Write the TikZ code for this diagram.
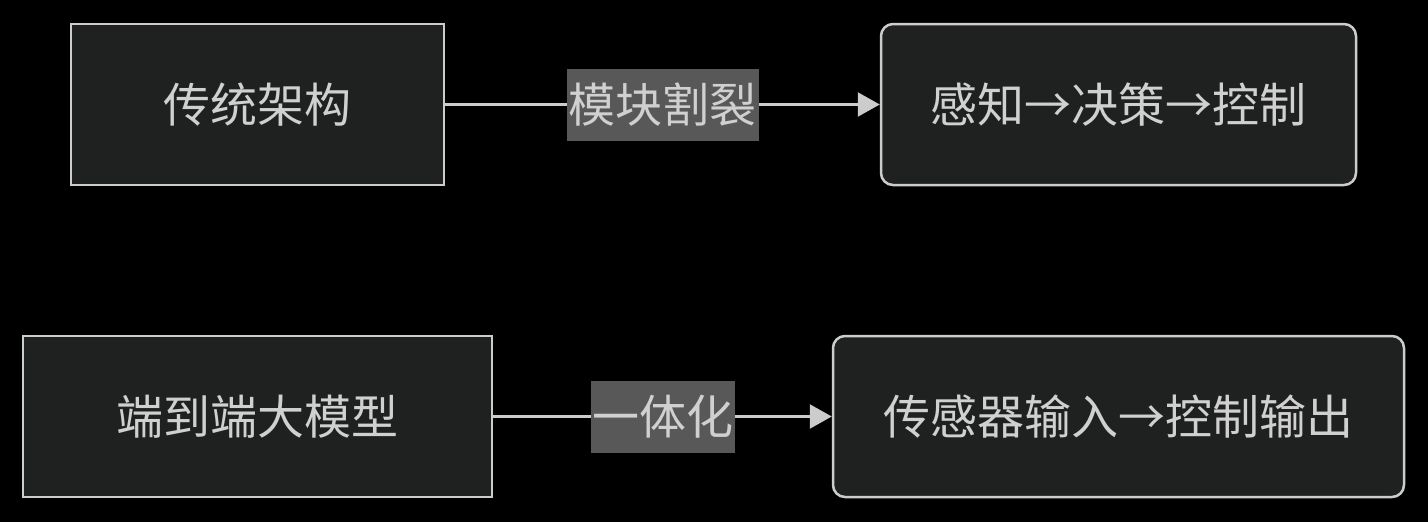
\documentclass[tikz,border=0pt]{standalone}
\usepackage{fontspec}
\newfontfamily\cjk{Noto Sans CJK SC}
\usetikzlibrary{arrows.meta}
\definecolor{bg}{HTML}{000000}
\definecolor{boxfill}{HTML}{1F2020}
\definecolor{edge}{HTML}{CCCCCC}
\definecolor{lblfill}{HTML}{585858}
\definecolor{txt}{HTML}{D0D0D0}
\tikzset{
  sq/.style={draw=edge, line width=2.5pt, fill=boxfill, minimum height=161pt, inner sep=0pt, text=txt, font=\cjk\fontsize{47}{56}\selectfont},
  rnd/.style={sq, rounded corners=12pt},
  conn/.style={draw=edge, line width=2.5pt, -{Triangle[length=22pt,width=24pt]}},
  lbl/.style={fill=lblfill, text=txt, font=\cjk\fontsize{47}{56}\selectfont, inner xsep=0pt, inner ysep=0pt, minimum height=72pt}
}
\begin{document}
\begin{tikzpicture}[x=1pt,y=-1pt]
\fill[bg] (0,0) rectangle (1428,522);
\useasboundingbox (0,0) rectangle (1428,522);
\node[sq, minimum width=373pt] (a) at (257.5,104.5) {传统架构};
\node[rnd, minimum width=475pt] (b) at (1118.5,104.5) {感知→决策→控制};
\node[sq, minimum width=469pt] (c) at (257.5,416.5) {端到端大模型};
\node[rnd, minimum width=571pt] (d) at (1118.5,416.5) {传感器输入→控制输出};
\draw[conn] (a) -- node[lbl, minimum width=192pt] {模块割裂} (b);
\draw[conn] (c) -- node[lbl, minimum width=144pt] {一体化} (d);
\end{tikzpicture}
\end{document}
